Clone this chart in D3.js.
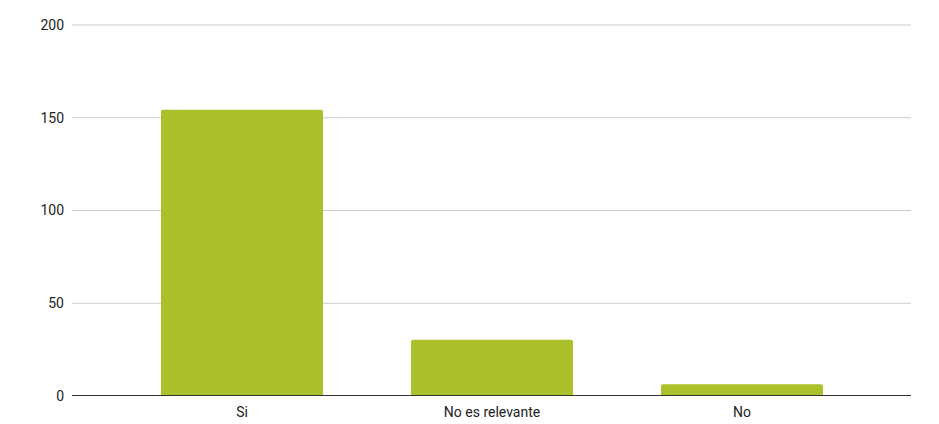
<!DOCTYPE html>
<html>
<head>
<meta charset="utf-8">
<script src="https://cdn.jsdelivr.net/npm/d3@7/dist/d3.min.js"></script>
<style>
  html, body { margin: 0; padding: 0; background: #fff; }
  svg text { font-family: Roboto, "Noto Sans", sans-serif; }
</style>
</head>
<body>
<svg id="chart" width="939" height="424"></svg>
<script>
const categories = ["Si", "No es relevante", "No"];
const values = [154, 30, 6];
const yTicks = [0, 50, 100, 150, 200];

const svg = d3.select("#chart");
const plotLeft = 72, plotRight = 911, plotTop = 24.5, plotBottom = 395.5;

const x = d3.scaleBand()
  .domain(categories)
  .range([plotLeft, plotRight + 1])
  .paddingInner(0.352)
  .paddingOuter(0.356);

const y = d3.scaleLinear().domain([0, 200]).range([plotBottom, plotTop]);

// horizontal gridlines with labels
const yAxis = d3.axisLeft(y)
  .tickValues(yTicks)
  .tickSize(-(plotRight - plotLeft))
  .tickPadding(8)
  .tickFormat(d3.format("d"));

const gy = svg.append("g")
  .attr("transform", `translate(${plotLeft},0)`)
  .call(yAxis);
gy.select(".domain").remove();
gy.selectAll(".tick line").attr("stroke", "#cccccc").attr("stroke-width", 1);
gy.selectAll(".tick text")
  .attr("fill", "#222222")
  .attr("font-size", 14)
  .attr("dy", "0.35em")
  .attr("x", -8);

// bars
svg.append("g").selectAll("rect")
  .data(categories)
  .join("rect")
  .attr("x", d => x(d))
  .attr("width", x.bandwidth())
  .attr("y", (d, i) => y(values[i]))
  .attr("height", (d, i) => y(0) - y(values[i]) + 2)
  .attr("rx", 2)
  .attr("fill", "#abc02a");

// cover the bottom rounding so bars sit flat on the baseline
svg.append("rect")
  .attr("x", plotLeft).attr("y", plotBottom)
  .attr("width", plotRight - plotLeft).attr("height", 4)
  .attr("fill", "#fff");

// baseline
svg.append("line")
  .attr("x1", plotLeft).attr("x2", plotRight)
  .attr("y1", plotBottom).attr("y2", plotBottom)
  .attr("stroke", "#333333").attr("stroke-width", 1);

// category labels
const xAxis = d3.axisBottom(x).tickSize(0).tickPadding(12);
const gx = svg.append("g")
  .attr("transform", `translate(0,${plotBottom})`)
  .call(xAxis);
gx.select(".domain").remove();
gx.selectAll(".tick text")
  .attr("fill", "#222222")
  .attr("font-size", 14);
</script>
</body>
</html>
